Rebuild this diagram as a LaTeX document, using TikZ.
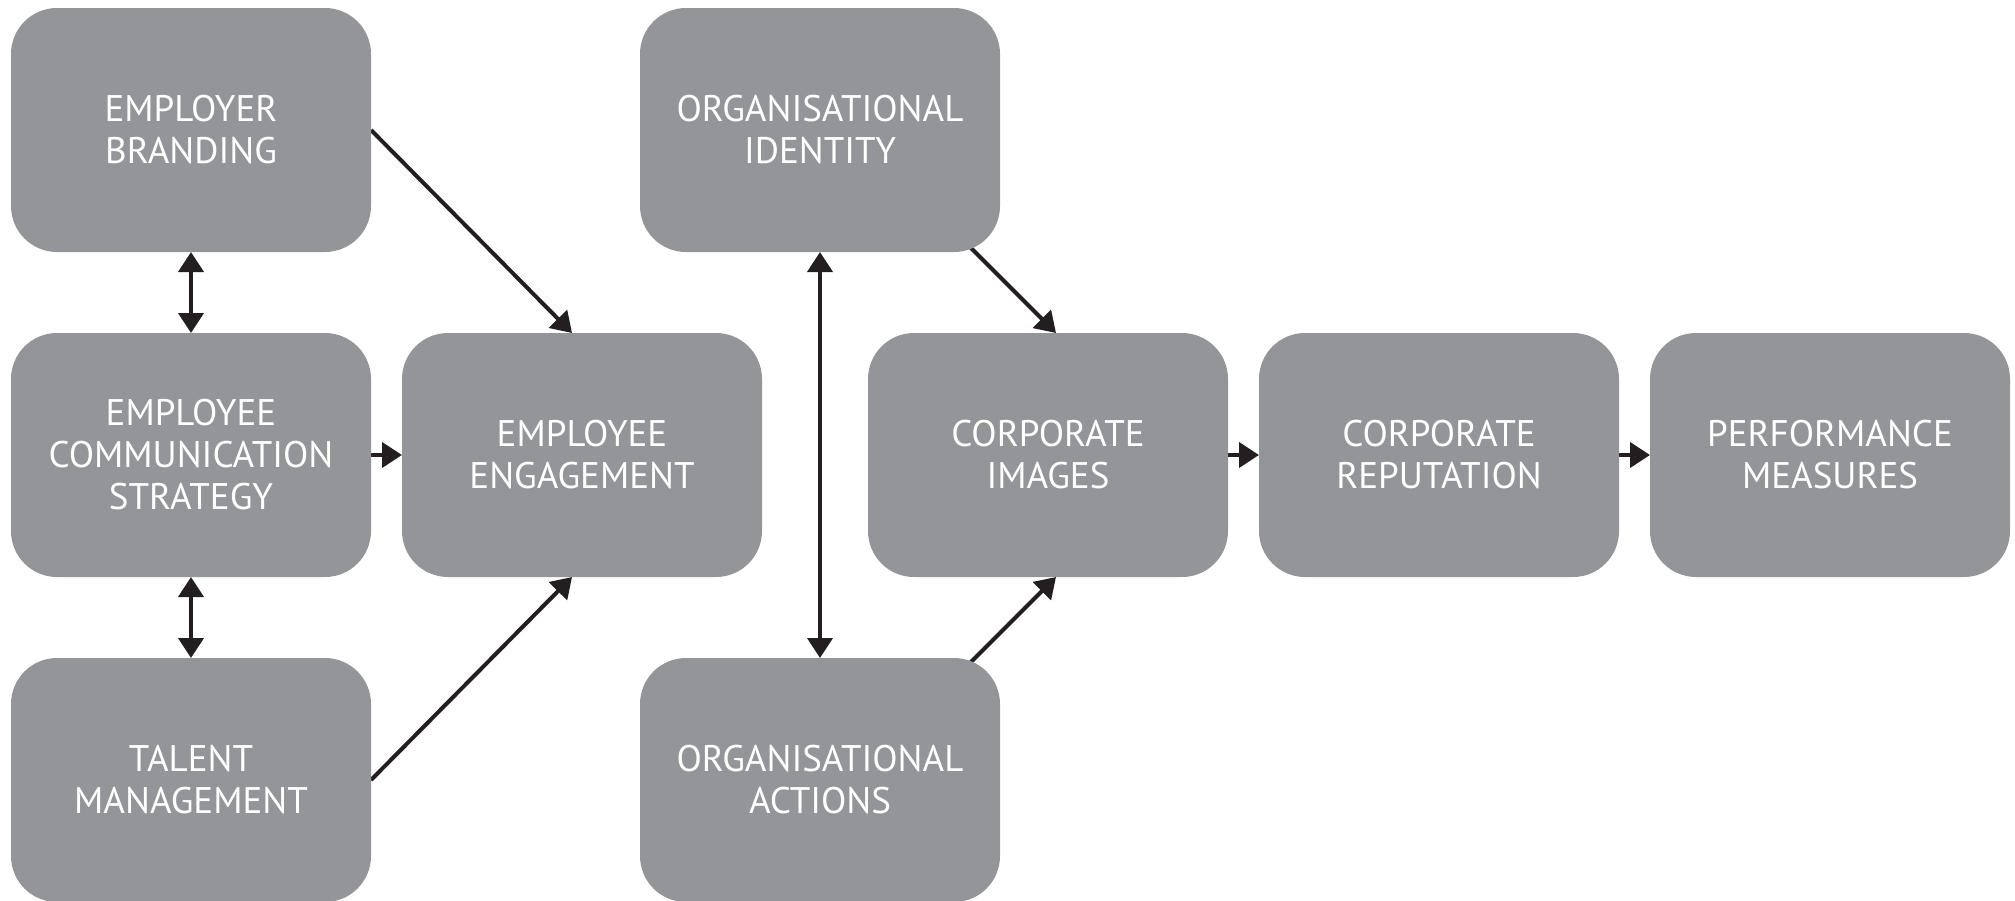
\documentclass[tikz,border=0pt]{standalone}
\usepackage{fontspec}
\setsansfont{PT Sans}
\usepackage{tikz}
\usetikzlibrary{positioning}
\usetikzlibrary{calc}
\usetikzlibrary{backgrounds}
\usetikzlibrary{arrows.meta}

\definecolor{boxgray}{HTML}{939598}
\definecolor{arrowblack}{HTML}{231F20}

\tikzset{
    block/.style={
        fill=boxgray,
        rounded corners=46pt,
        minimum width=360pt,
        minimum height=244pt,
        inner sep=0pt,
        outer sep=0pt,
        align=center,
        text=white,
        font=\sffamily\fontsize{37}{42}\selectfont
    },
    link/.style={
        draw=arrowblack,
        line width=4pt,
        -{Triangle[length=20pt,width=25pt]}
    },
    twoway/.style={
        link,
        {Triangle[length=20pt,width=25pt]}-{Triangle[length=20pt,width=25pt]}
    }
}

\begin{document}
\begin{tikzpicture}[x=1pt,y=1pt]
    \useasboundingbox (0,0) rectangle (2015,-900);

    % left column
    \node[block] (comm) at (191,-455) {EMPLOYEE\\COMMUNICATION\\STRATEGY};
    \node[block, above=81pt of comm] (branding) {EMPLOYER\\BRANDING};
    \node[block, below=81pt of comm] (talent) {TALENT\\MANAGEMENT};
    \node[block, right=31pt of comm] (engagement) {EMPLOYEE\\ENGAGEMENT};

    % organisation column
    \node[block] (identity) at (820,-130) {ORGANISATIONAL\\IDENTITY};
    \node[block] (actions) at (820,-780) {ORGANISATIONAL\\ACTIONS};

    % main chain
    \node[block, right=106pt of engagement] (images) {CORPORATE\\IMAGES};
    \node[block, right=31pt of images] (reputation) {CORPORATE\\REPUTATION};
    \node[block, right=31pt of reputation] (performance) {PERFORMANCE\\MEASURES};

    % connectors sit behind the boxes
    \begin{scope}[on background layer]
        \draw[twoway] (branding.south) -- (comm.north);
        \draw[twoway] (talent.north) -- (comm.south);
        \draw[link] (comm.east) -- (engagement.west);
        \draw[link] (branding.east) -- ($(engagement.north)+(-10,0)$);
        \draw[link] (talent.east) -- ($(engagement.south)+(-10,0)$);

        \draw[twoway] (identity.south) -- (actions.north);
        \coordinate (imgtop) at ($(images.north)+(8,0)$);
        \coordinate (imgbot) at ($(images.south)+(8,0)$);
        \draw[link] ($(imgtop)+(-92,92)$) -- (imgtop);
        \draw[link] ($(imgbot)+(-92,-92)$) -- (imgbot);

        \draw[link] (images.east) -- (reputation.west);
        \draw[link] (reputation.east) -- (performance.west);
    \end{scope}
\end{tikzpicture}
\end{document}
